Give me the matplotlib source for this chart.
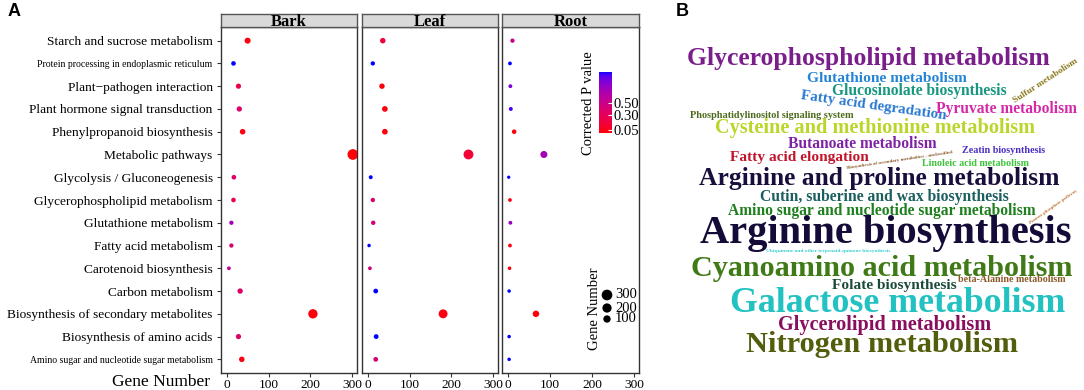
import numpy as np
import matplotlib
matplotlib.use('Agg')
import matplotlib.pyplot as plt
from matplotlib.colors import ListedColormap, Normalize
from matplotlib.cm import ScalarMappable

# ---------------- data ----------------
categories = [
    "Starch and sucrose metabolism",
    "Protein processing in endoplasmic reticulum",
    "Plant\u2212pathogen interaction",
    "Plant hormone signal transduction",
    "Phenylpropanoid biosynthesis",
    "Metabolic pathways",
    "Glycolysis / Gluconeogenesis",
    "Glycerophospholipid metabolism",
    "Glutathione metabolism",
    "Fatty acid metabolism",
    "Carotenoid biosynthesis",
    "Carbon metabolism",
    "Biosynthesis of secondary metabolites",
    "Biosynthesis of amino acids",
    "Amino sugar and nucleotide sugar metabolism",
]
facets = ["Bark", "Leaf", "Root"]
bark_genes = [49, 15, 27, 29, 37, 302, 16, 15, 10, 10, 4, 31, 206, 27, 35]
leaf_genes = [35, 11, 33, 40, 40, 241, 6, 11, 12, 2, 4, 18, 180, 19, 18]
root_genes = [10, 4, 5, 6, 14, 85, 1, 4, 5, 4, 3, 2, 66, 2, 2]
bark_p = [0.02, 1.00, 0.22, 0.35, 0.03, 0.01, 0.35, 0.25, 0.70, 0.40, 0.55, 0.35, 0.02, 0.35, 0.03]
leaf_p = [0.18, 1.00, 0.02, 0.02, 0.02, 0.15, 1.00, 0.40, 0.40, 1.00, 0.42, 1.00, 0.03, 1.00, 0.42]
root_p = [0.50, 1.00, 0.85, 0.95, 0.02, 0.70, 1.00, 0.03, 0.75, 0.03, 0.03, 1.00, 0.02, 1.00, 1.00]
x_ticks = [0, 100, 200, 300]
p_ticks = [0.05, 0.30, 0.50]
size_breaks = [300, 200, 100]

wc_words = [
    "Glycerophospholipid metabolism", "Glutathione metabolism", "Glucosinolate biosynthesis",
    "Fatty acid degradation", "Sulfur metabolism", "Pyruvate metabolism",
    "Phosphatidylinositol signaling system", "Cysteine and methionine metabolism",
    "Butanoate metabolism", "Zeatin biosynthesis", "Fatty acid elongation",
    "Linoleic acid metabolism", "Biosynthesis of secondary metabolites - unclassified",
    "Arginine and proline metabolism", "Cutin, suberine and wax biosynthesis",
    "Amino sugar and nucleotide sugar metabolism", "Pentose phosphate pathway",
    "Arginine biosynthesis", "Ubiquinone and other terpenoid-quinone biosynthesis",
    "Cyanoamino acid metabolism", "Folate biosynthesis", "beta-Alanine metabolism",
    "Galactose metabolism", "Glycerolipid metabolism", "Nitrogen metabolism",
]
wc_colors = [
    "#7A1E8C", "#2584D6", "#17977F", "#2B7BD1", "#8C7A1E", "#D42AA8",
    "#4E6B1C", "#BBD62A", "#7E22A6", "#4B2EC2", "#C2142B", "#3DC43A",
    "#8B5A2B", "#1A0E3D", "#1B5E5E", "#1E801E", "#C07A3A", "#150B38",
    "#3ACFCF", "#3F7A17", "#1B4A38", "#8A5A2A", "#22C2C2", "#8A0E5E", "#535E0C",
]

# ---------------- layout / style ----------------
W, H = 1084, 390
# word cloud placement (center x, center y, text length px, rotation deg)
wc_layout = [
    (868, 59, 363, 0), (887, 79, 160, 0), (919, 91, 175, 0),
    (874, 106, 148, -8), (1045, 81, 75, 33), (1006, 109, 142, 0),
    (772, 116, 163, 0), (875, 128, 320, 0),
    (862, 144, 149, 0), (1004, 151, 83, 0), (799, 158, 139, 0),
    (975, 163, 107, 0), (900, 160, 108, 8.5),
    (879, 179, 362, 0), (884, 197, 248, 0),
    (882, 211, 309, 0), (1053, 207, 58, 35),
    (886, 233, 372, 0), (828, 251, 123, 0),
    (882, 268, 383, 0), (894, 285, 125, 0), (1012, 279, 108, 0),
    (898, 304, 335, 0), (885, 325, 214, 0), (882, 345, 273, 0),
]
label_fs = [9.6, 7.0, 9.6, 9.6, 9.6, 9.6, 9.6, 9.6, 9.6, 9.6, 9.6, 9.6, 9.6, 9.6, 7.0]
SERIF = "Liberation Serif"


def box(l, t, r, b):
    return [l / W, 1 - b / H, (r - l) / W, (b - t) / H]


# ggplot-like red -> blue gradient interpolated in CIELAB
M = np.array([[0.4124, 0.3576, 0.1805], [0.2126, 0.7152, 0.0722], [0.0193, 0.1192, 0.9505]])
WP = M.sum(axis=1)


def _lin(c):
    c = np.asarray(c, float)
    return np.where(c <= 0.04045, c / 12.92, ((c + 0.055) / 1.055) ** 2.4)


def _gam(c):
    c = np.clip(c, 0, 1)
    return np.where(c <= 0.0031308, 12.92 * c, 1.055 * np.power(c, 1 / 2.4) - 0.055)


def rgb2lab(rgb):
    xyz = M @ _lin(rgb) / WP
    d = 6 / 29
    f = np.where(xyz > d ** 3, np.cbrt(xyz), xyz / (3 * d * d) + 4 / 29)
    return np.array([116 * f[1] - 16, 500 * (f[0] - f[1]), 200 * (f[1] - f[2])])


def lab2rgb(lab):
    L, a, b = lab
    fy = (L + 16) / 116
    f = np.array([fy + a / 500, fy, fy - b / 200])
    d = 6 / 29
    xyz = np.where(f > d, f ** 3, 3 * d * d * (f - 4 / 29)) * WP
    rgb = np.linalg.solve(M, xyz)
    return np.clip(_gam(rgb), 0, 1)


lab_r = rgb2lab([1, 0, 0])
lab_b = rgb2lab([0, 0, 1])
cols = [lab2rgb(lab_r + (lab_b - lab_r) * t) for t in np.linspace(0, 1, 256)]
cmap = ListedColormap(cols)
norm = Normalize(vmin=0.0, vmax=1.0)

all_genes = np.array(bark_genes + leaf_genes + root_genes, float)
smin, smax = np.sqrt(all_genes.min()), np.sqrt(all_genes.max())


def dot_size(n):
    n = np.asarray(n, float)
    d_px = 3.3 + 7.4 * (np.sqrt(n) - smin) / (smax - smin)
    return (d_px * 0.72) ** 2


plt.rcParams['font.family'] = [SERIF, 'DejaVu Serif']
fig = plt.figure(figsize=(W / 100, H / 100), dpi=100)

panels = [(221, 357), (362, 498), (502, 639)]
genes = [bark_genes, leaf_genes, root_genes]
pvals = [bark_p, leaf_p, root_p]
ypos = np.arange(len(categories))
for i, (l, r) in enumerate(panels):
    ax = fig.add_axes(box(l, 27, r, 373))
    ax.scatter(genes[i], ypos, s=dot_size(genes[i]), c=pvals[i], cmap=cmap, norm=norm,
               linewidths=0, zorder=3)
    ax.set_xlim(-15, 312)
    ax.set_ylim(len(categories) - 0.4, -0.6)
    ax.set_xticks(x_ticks)
    ax.set_xticklabels([str(v) for v in x_ticks], fontsize=9.6)
    ax.tick_params(axis='x', length=3, width=0.8, color='#333333', pad=1.5)
    if i == 0:
        ax.set_yticks(ypos)
        ax.set_yticklabels(categories)
        for tl, fs in zip(ax.get_yticklabels(), label_fs):
            tl.set_fontsize(fs)
        ax.tick_params(axis='y', length=3, width=0.8, color='#333333', pad=3)
    else:
        ax.set_yticks([])
    for sp in ax.spines.values():
        sp.set_color('#333333')
        sp.set_linewidth(1.0)
    # strip
    st = fig.add_axes(box(l, 14, r, 27))
    st.set_facecolor('#D9D9D9')
    st.set_xticks([])
    st.set_yticks([])
    for sp in st.spines.values():
        sp.set_color('#555555')
        sp.set_linewidth(1.0)
    st.text(0.5, 0.42, facets[i], transform=st.transAxes, ha='center', va='center',
            fontsize=12, fontweight='bold')

fig.text(210 / W, 1 - 382 / H, "Gene Number", ha='right', va='center', fontsize=12.5)

# colour bar
cax = fig.add_axes(box(599, 72, 612, 133))
cb = fig.colorbar(ScalarMappable(norm=norm, cmap=cmap), cax=cax, ticks=p_ticks)
cb.outline.set_visible(False)
cax.set_yticklabels(["%.2f" % v for v in p_ticks], fontsize=10.5)
cax.tick_params(axis='y', length=3, direction='in', color='white', width=0.8, pad=1)
fig.text(589 / W, 1 - 103 / H, "Corrected P value", rotation=90, ha='center', va='center',
         fontsize=10.5)

# size legend
lax = fig.add_axes([0, 0, 1, 1])
lax.set_xlim(0, W)
lax.set_ylim(H, 0)
lax.axis('off')
leg_y = [295, 308, 319]
lax.scatter([607] * 3, leg_y, s=dot_size(size_breaks), c='black', linewidths=0)
for v, yy in zip(size_breaks, leg_y):
    lax.text(615, yy, str(v), ha='left', va='center', fontsize=10.5)
fig.text(595 / W, 1 - 309 / H, "Gene Number", rotation=90, ha='center', va='center',
         fontsize=10.5)

# panel letters
fig.text(8 / W, 1 - 12 / H, "A", fontsize=13, fontweight='bold', family='Liberation Sans',
         ha='left', va='center')
fig.text(676 / W, 1 - 12 / H, "B", fontsize=13, fontweight='bold', family='Liberation Sans',
         ha='left', va='center')

# word cloud
renderer = fig.canvas.get_renderer()
for word, colr, (cx, cy, ln, rot) in zip(wc_words, wc_colors, wc_layout):
    t = fig.text(cx / W, 1 - cy / H, word, fontsize=10, fontweight='bold', color=colr,
                 ha='center', va='center', rotation=0, rotation_mode='anchor')
    w = t.get_window_extent(renderer).width
    t.set_fontsize(10 * ln / w)
    t.set_rotation(rot)

fig.savefig("out.png", dpi=100)
